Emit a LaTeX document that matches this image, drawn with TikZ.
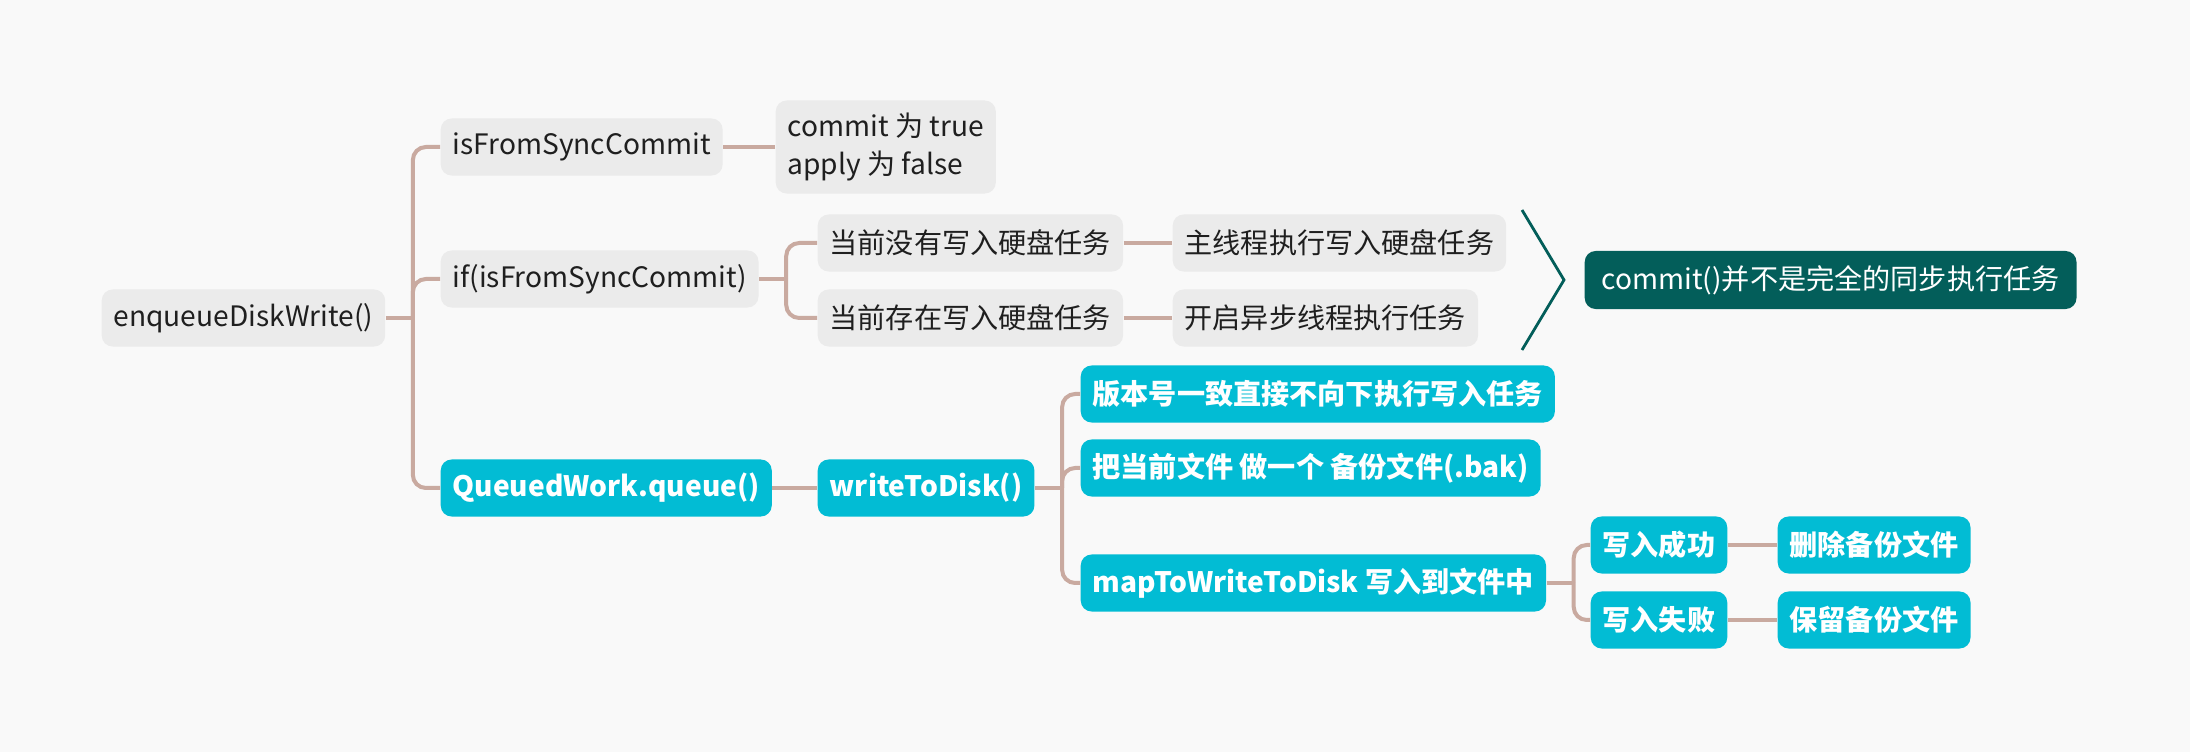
\documentclass[tikz,border=0pt]{standalone}
\usepackage{fontspec}
\setmainfont{Noto Sans CJK SC}
\usepackage{tikz}
\definecolor{bgcol}{HTML}{F9F9F9}
\definecolor{graycol}{HTML}{EBEBEB}
\definecolor{cyancol}{HTML}{02BCD4}
\definecolor{tealcol}{HTML}{035E5A}
\definecolor{linkcol}{HTML}{C9AAA0}
\definecolor{textcol}{HTML}{1F1F1F}
\tikzstyle{box} = [anchor=west,rounded corners=0.11cm,minimum height=0.57cm,inner xsep=0.12cm,inner ysep=0.05cm,font=\fontsize{8}{11}\selectfont]
\tikzstyle{graybox} = [box,fill=graycol,text=textcol]
\tikzstyle{cyanbox} = [box,fill=cyancol,text=white,font=\fontsize{8}{11}\selectfont\bfseries]
\tikzstyle{summary} = [box,fill=tealcol,text=white,minimum height=0.58cm,inner xsep=0.17cm]
\tikzstyle{link} = [draw=linkcol,line width=0.04cm,rounded corners=0.13cm]

\begin{document}
\begin{tikzpicture}[x=0.01cm,y=-0.01cm]
        \fill[bgcol] (0,0) rectangle (2190,752);
        \useasboundingbox (0,0) rectangle (2190,752);
        \node[graybox] at (101,318) (enq) {enqueueDiskWrite()};
        \node[graybox] at (440,147) (fsc) {isFromSyncCommit};
        \node[graybox,align=left,minimum height=0.93cm] at (775,147) (note) {commit 为 true\\apply 为 false};
        \node[graybox] at (440,279) (ifs) {if(isFromSyncCommit)};
        \node[graybox] at (817,243) (nowr) {当前没有写入硬盘任务};
        \node[graybox] at (817,318) (hasr) {当前存在写入硬盘任务};
        \node[graybox] at (1172,243) (mainth) {主线程执行写入硬盘任务};
        \node[graybox] at (1172,318) (asyncth) {开启异步线程执行任务};
        \node[summary] at (1584,280) (summ) {commit()并不是完全的同步执行任务};
        \node[cyanbox] at (440,488) (qw) {QueuedWork.queue()};
        \node[cyanbox] at (817,488) (wtd) {writeToDisk()};
        \node[cyanbox] at (1080,394) (ver) {版本号一致直接不向下执行写入任务};
        \node[cyanbox] at (1080,468) (bak) {把当前文件 做一个 备份文件(.bak)};
        \node[cyanbox] at (1080,583) (map) {mapToWriteToDisk 写入到文件中};
        \node[cyanbox] at (1590,545) (ok) {写入成功};
        \node[cyanbox] at (1590,620) (fail) {写入失败};
        \node[cyanbox] at (1777,545) (del) {删除备份文件};
        \node[cyanbox] at (1777,620) (keep) {保留备份文件};

        % forks
        \draw[link] (enq.east) -- ++(27,0) coordinate (enqfork);
        \foreach \kid in {fsc,ifs,qw}
            \draw[link] (enqfork) |- (\kid.west);
        \draw[link] (ifs.east) -- ++(27,0) coordinate (ifsfork);
        \foreach \kid in {nowr,hasr}
            \draw[link] (ifsfork) |- (\kid.west);
        \draw[link] (wtd.east) -- ++(27,0) coordinate (wtdfork);
        \foreach \kid in {ver,bak,map}
            \draw[link] (wtdfork) |- (\kid.west);
        \draw[link] (map.east) -- ++(27,0) coordinate (mapfork);
        \foreach \kid in {ok,fail}
            \draw[link] (mapfork) |- (\kid.west);

        % straight links
        \draw[link] (fsc.east) -- (note.west);
        \draw[link] (nowr.east) -- (mainth.west);
        \draw[link] (hasr.east) -- (asyncth.west);
        \draw[link] (qw.east) -- (wtd.west);
        \draw[link] (ok.east) -- (del.west);
        \draw[link] (fail.east) -- (keep.west);

        % summary brace
        \coordinate (bracetop) at (1522,210);
        \coordinate (bracetip) at (1564,280);
        \coordinate (bracebot) at (1522,350);
        \draw[tealcol,line width=0.028cm] (bracetop) -- (bracetip) -- (bracebot);
    \end{tikzpicture}
\end{document}
